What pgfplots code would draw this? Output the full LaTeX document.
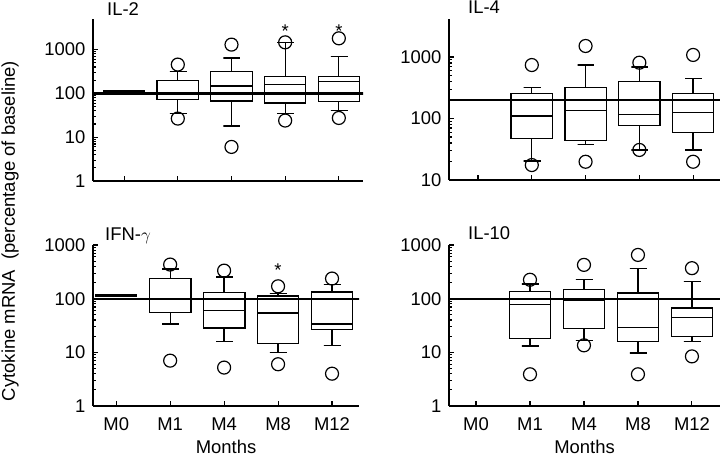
\documentclass[border=0pt]{standalone}
\usepackage{fontspec}
\setmainfont{Liberation Sans}
\usepackage{pgfplots}
\pgfplotsset{compat=1.18}

\newcommand{\fs}{\fontsize{18.5}{21}\selectfont}

\pgfplotsset{
  cytopanel/.style={
    scale only axis,
    clip mode=individual,
    font=\fs,
    axis x line=bottom, axis y line=left,
    axis line style={-, line width=1.3bp},
    tick align=inside,
    every tick/.style={black, line width=1.1bp},
    major tick length=5bp, minor tick length=3bp,
    xtick={0,1,2,3,4},
    xticklabels={},
    tick label style={font=\fs},
    label style={font=\fs},
    /pgf/number format/assume math mode=true,
    yticklabel style={xshift=-4bp},
    xticklabel style={yshift=-8bp},
    xlabel style={yshift=-3bp},
  },
  bline/.style={black, solid, line width=1.3bp, line cap=rect, no marks},
  omark/.style={black, only marks, mark=o, mark size=6.5bp,
    mark options={solid, line width=1.2bp, fill=none}},
  refl/.style={black, line width=2.3bp, no marks},
}

% #1 position, #2 lower whisker, #3 lower quartile, #4 median,
% #5 upper quartile, #6 upper whisker, #7 #8 outliers
\newcommand{\bx}[8]{%
  \pgfmathsetmacro{\xl}{#1-0.385}\pgfmathsetmacro{\xr}{#1+0.385}%
  \pgfmathsetmacro{\cl}{#1-0.15}\pgfmathsetmacro{\cr}{#1+0.15}%
  \addplot[bline] coordinates {(\xl,#3) (\xr,#3) (\xr,#5) (\xl,#5) (\xl,#3)};
  \addplot[bline] coordinates {(\xl,#4) (\xr,#4)};
  \addplot[bline] coordinates {(#1,#5) (#1,#6) (\cl,#6) (\cr,#6)};
  \addplot[bline] coordinates {(#1,#3) (#1,#2) (\cl,#2) (\cr,#2)};
  \addplot[omark] coordinates {(#1,#7) (#1,#8)};
}
\newcommand{\bz}[1]{%
  \addplot[refl] coordinates {(-0.385,#1) (0.385,#1)};
}

\begin{document}
\begin{tikzpicture}
\useasboundingbox (0,0) rectangle (720bp,461bp);

% ---------------- IL-2 ----------------
\begin{axis}[cytopanel, ymode=log, at={(93bp,280bp)}, anchor=south west, width=270bp, height=162bp,
  xmin=-0.58, xmax=4.45, ymin=1, ymax=5000,
  ytick={1,10,100,1000}, yticklabels={1,10,100,1000}]
\addplot[refl] coordinates {(-1,100) (5,100)};
\bz{110}
\bx{1}{34.5}{72}{102}{197}{321}{455}{26.6}
\bx{2}{18}{67}{147}{321}{647}{1300}{6.0}
\bx{3}{34.5}{60}{159}{243}{1466}{1466}{24}
\bx{4}{41}{66}{186}{243}{690}{1810}{27.5}
\node[anchor=base, inner sep=0pt, font=\fs] at (axis cs:3,1930) {*};
\node[anchor=base, inner sep=0pt, font=\fs] at (axis cs:4,1930) {*};
\node[anchor=base west, inner sep=0pt, xshift=14bp, yshift=3bp, font=\fs] at (rel axis cs:0,1) {IL-2};
\end{axis}

% ---------------- IL-4 ----------------
\begin{axis}[cytopanel, ymode=log, at={(449bp,281bp)}, anchor=south west, width=271bp, height=161bp,
  xmin=-0.54, xmax=4.5, ymin=10, ymax=4150,
  ytick={10,100,1000}, yticklabels={10,100,1000}]
\addplot[refl] coordinates {(-1,200) (5,200)};
\bz{200}
\bx{1}{20.4}{47.6}{110}{257}{322}{740}{17.5}
\bx{2}{38}{43.5}{136}{316}{740}{1510}{19.8}
\bx{3}{30.8}{77.5}{117}{397}{690}{808}{30.8}
\bx{4}{30.8}{58.9}{126}{257}{451}{1080}{19.8}
\node[anchor=base west, inner sep=0pt, xshift=19bp, yshift=5bp, font=\fs] at (rel axis cs:0,1) {IL-4};
\end{axis}

% ---------------- IFN-gamma ----------------
\begin{axis}[cytopanel, ymode=log, at={(93bp,55bp)}, anchor=south west, width=266bp, height=161bp,
  xmin=-0.43, xmax=4.5, ymin=1, ymax=1000,
  ytick={1,10,100,1000}, yticklabels={1,10,100,1000},
  xticklabels={M0,M1,M4,M8,M12}, xlabel={Months}]
\addplot[refl] coordinates {(-1,100) (5,100)};
\bz{114}
\bx{1}{33.6}{54.7}{96}{237}{359}{432}{7.0}
\bx{2}{15.9}{28.3}{59.7}{131}{254}{333}{5.2}
\bx{3}{9.9}{14.8}{54}{112}{124}{170}{6.0}
\bx{4}{13.4}{26.7}{33.6}{133}{183}{237}{4.0}
\node[anchor=base, inner sep=0pt, font=\fs] at (axis cs:3,257) {*};
\node[anchor=base west, inner sep=0pt, xshift=12bp, yshift=4bp, font=\fs] at (rel axis cs:0,1) {IFN-$\gamma$};
\end{axis}

% ---------------- IL-10 ----------------
\begin{axis}[cytopanel, ymode=log, at={(449bp,55bp)}, anchor=south west, width=271bp, height=161bp,
  xmin=-0.5, xmax=4.52, ymin=1, ymax=1000,
  ytick={1,10,100,1000}, yticklabels={1,10,100,1000},
  xticklabels={M0,M1,M4,M8,M12}, xlabel={Months}]
\addplot[refl] coordinates {(-1,100) (5,100)};
\bz{100}
\bx{1}{13.1}{18.2}{78.5}{137}{187}{225}{3.9}
\bx{2}{16.7}{27.4}{92}{149}{225}{426}{13.5}
\bx{3}{9.7}{15.8}{29.4}{127}{365}{653}{3.9}
\bx{4}{15.8}{19.8}{45}{67}{206}{370}{8.4}
\node[anchor=base west, inner sep=0pt, xshift=19bp, yshift=5bp, font=\fs] at (rel axis cs:0,1) {IL-10};
\end{axis}

\node[rotate=90, font=\fs] at (10bp,230bp) {Cytokine mRNA\ \ (percentage of baseline)};
\end{tikzpicture}
\end{document}
